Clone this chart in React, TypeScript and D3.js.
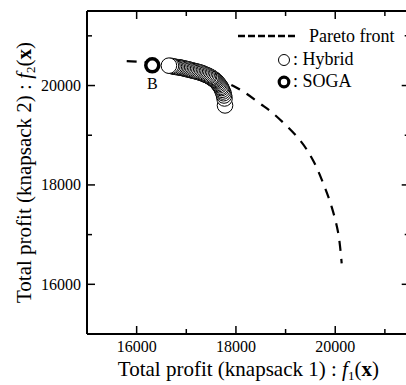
import React from "react";
import * as d3 from "d3";

// Pareto front (dashed curve)
const paretoX = [15800, 16400, 17000, 17500, 17960, 18200, 18484, 18746, 19290, 19552, 19759, 19928, 20062, 20130];
const paretoY = [20490, 20450, 20350, 20200, 19985, 19844, 19637, 19442, 18899, 18497, 18029, 17559, 17024, 16421];

// Hybrid solutions
const hybridX = [16650, 16690, 16720, 16750, 16780, 16810, 16840, 16870, 16900, 16930, 16960, 16990, 17020, 17050, 17080, 17110, 17140, 17170, 17200, 17230, 17260, 17290, 17320, 17350, 17380, 17410, 17440, 17460, 17490, 17510, 17530, 17550, 17570, 17590, 17610, 17630, 17650, 17670, 17690, 17705, 17720, 17735, 17750, 17760, 17770, 17780];
const hybridY = [20400, 20395, 20390, 20380, 20375, 20372, 20368, 20362, 20358, 20350, 20345, 20335, 20328, 20322, 20315, 20305, 20298, 20292, 20285, 20275, 20268, 20258, 20248, 20236, 20222, 20210, 20198, 20185, 20170, 20158, 20145, 20128, 20115, 20098, 20080, 20055, 20030, 20005, 19975, 19950, 19915, 19880, 19845, 19800, 19740, 19600];

// SOGA solution
const sogaX = [16315];
const sogaY = [20407];

const majorTicks = [16000, 18000, 20000];
const minorTicks = [17000, 19000, 21000];

const W = 406;
const H = 385;
const margin = { top: 11, left: 87 };
const plotW = 322.7;
const plotH = 323;
const font = "'Liberation Serif', 'Times New Roman', serif";

export default function App() {
  const x = d3.scaleLinear().domain([15000, 21500]).range([margin.left, margin.left + plotW]);
  const y = d3.scaleLinear().domain([15000, 21500]).range([margin.top + plotH, margin.top]);

  const x0 = x(15000), x1 = x(21500), y0 = y(15000), y1 = y(21500);

  const pareto = paretoX.map((v, i) => [v, paretoY[i]] as [number, number]);
  const line = d3.line<[number, number]>()
    .x((d) => x(d[0]))
    .y((d) => y(d[1]))
    .curve(d3.curveCatmullRom);

  // first points drawn last so the leftmost circle sits on top
  const hybrid = hybridX.map((v, i) => ({ x: v, y: hybridY[i] })).reverse();

  const ticks = [
    ...majorTicks.map((t) => ({ t, len: 8 })),
    ...minorTicks.map((t) => ({ t, len: 5 })),
  ];

  return (
    <svg width={W} height={H} style={{ position: "absolute", left: 0, top: 0 }} fontFamily={font}>
      <rect width={W} height={H} fill="white" />

      {/* pareto front */}
      <path d={line(pareto) ?? ""} fill="none" stroke="black" strokeWidth={2.2} strokeDasharray="10,8" />

      {/* hybrid */}
      {hybrid.map((d, i) => (
        <circle key={i} cx={x(d.x)} cy={y(d.y)} r={7.8} fill="white" stroke="black" strokeWidth={1} />
      ))}

      {/* SOGA */}
      {sogaX.map((v, i) => (
        <circle key={i} cx={x(v)} cy={y(sogaY[i])} r={6.5} fill="white" stroke="black" strokeWidth={3.5} />
      ))}
      <text x={x(sogaX[0])} y={y(sogaY[0]) + 24} textAnchor="middle" fontSize={16}>B</text>

      {/* frame */}
      <line x1={x0} x2={x0} y1={y1} y2={y0} stroke="black" strokeWidth={2} />
      <line x1={x0} x2={x1} y1={y0} y2={y0} stroke="black" strokeWidth={2} />
      <line x1={x0} x2={x1} y1={y1} y2={y1} stroke="black" strokeWidth={2} />
      <line x1={x1} x2={x1} y1={y1} y2={y0} stroke="black" strokeWidth={2} />

      {ticks.map(({ t, len }) => (
        <g key={"x" + t}>
          <line x1={x(t)} x2={x(t)} y1={y0} y2={y0 - len} stroke="black" strokeWidth={1.5} />
          <line x1={x(t)} x2={x(t)} y1={y1} y2={y1 + len} stroke="black" strokeWidth={1.5} />
          <line x1={x0} x2={x0 + len} y1={y(t)} y2={y(t)} stroke="black" strokeWidth={1.5} />
          <line x1={x1} x2={x1 - len} y1={y(t)} y2={y(t)} stroke="black" strokeWidth={1.5} />
        </g>
      ))}

      {majorTicks.map((t) => (
        <text key={"xl" + t} x={x(t)} y={y0 + 18} textAnchor="middle" fontSize={16}>{t}</text>
      ))}
      {majorTicks.map((t) => (
        <text key={"yl" + t} x={x0 - 6} y={y(t) + 5.5} textAnchor="end" fontSize={16}>{t}</text>
      ))}

      {/* axis titles */}
      <text x={(x0 + x1) / 2} y={376} textAnchor="middle" fontSize={21}>
        Total profit (knapsack 1) :{" "}
        <tspan fontStyle="italic">f</tspan>
        <tspan fontSize={13} dy={4}>1</tspan>
        <tspan dy={-4}>(</tspan>
        <tspan fontWeight="bold">x</tspan>
        <tspan>)</tspan>
      </text>
      <text transform={`translate(31,${(y0 + y1) / 2}) rotate(-90)`} textAnchor="middle" fontSize={21}>
        Total profit (knapsack 2) :{" "}
        <tspan fontStyle="italic">f</tspan>
        <tspan fontSize={13} dy={4}>2</tspan>
        <tspan dy={-4}>(</tspan>
        <tspan fontWeight="bold">x</tspan>
        <tspan>)</tspan>
      </text>

      {/* legend */}
      <line x1={238} x2={297} y1={36} y2={36} stroke="black" strokeWidth={2.5} strokeDasharray="7,3" />
      <text x={309} y={42} fontSize={18}>Pareto front</text>
      <circle cx={284} cy={60} r={5.5} fill="white" stroke="black" strokeWidth={1} />
      <text x={293} y={65} fontSize={18}>: Hybrid</text>
      <circle cx={284} cy={82} r={4.8} fill="white" stroke="black" strokeWidth={3.2} />
      <text x={293} y={87} fontSize={18}>: SOGA</text>
    </svg>
  );
}
